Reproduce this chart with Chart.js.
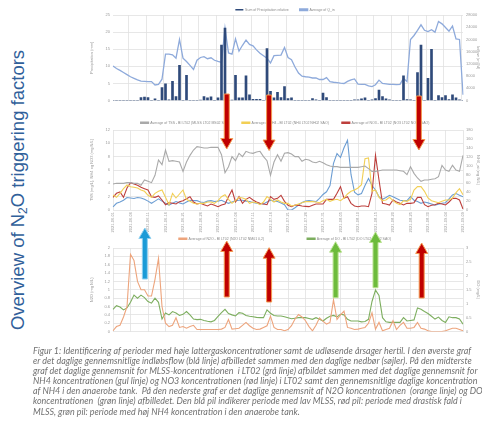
<!DOCTYPE html>
<html>
<head>
<meta charset="utf-8">
<script src="https://cdn.jsdelivr.net/npm/chart.js@4.4.0/dist/chart.umd.min.js"></script>
<style>
  html, body { margin: 0; padding: 0; background: #fff; }
  body { width: 482px; height: 423px; position: relative; overflow: hidden; font-family: "Liberation Sans", Arial, sans-serif; }
  canvas.chart { position: absolute; }
  #title {
    position: absolute; left: 18px; top: 189.5px;
    transform: translate(-50%, -50%) rotate(-90deg);
    white-space: nowrap; font-size: 18.5px; line-height: 22px; color: #30609a;
  }
  #title sub { font-size: 0.65em; line-height: 0; vertical-align: -0.25em; }
  #caption {
    position: absolute; left: 33px; top: 346px;
    font-family: Lato, "Open Sans", sans-serif; font-style: italic;
    font-size: 8px; line-height: 10.1px; color: #707070;
  }
  #caption div { white-space: pre; }
  #arrows { position: absolute; left: 0; top: 0; pointer-events: none; }
</style>
</head>
<body>
<div id="title">Overview of N<sub>2</sub>O triggering factors</div>

<canvas id="c1" class="chart" width="394" height="109" style="left:88px;top:-3px"></canvas>
<canvas id="c2" class="chart" width="394" height="126" style="left:88px;top:108px"></canvas>
<canvas id="c3" class="chart" width="394" height="143" style="left:88px;top:194px"></canvas>
<canvas id="arrows" width="482" height="423"></canvas>

<div id="caption">
<div><span>Figur 1: Identificering af perioder med høje lattergaskoncentrationer samt de udløsende årsager hertil. I den øverste graf</span></div>
<div>er det daglige gennemsnitlige indløbsflow (blå linje) afbilledet sammen med den daglige nedbør (søjler). På den midterste</div>
<div>graf det daglige gennemsnit for MLSS-koncentrationen  i LT02 (grå linje) afbildet sammen med det daglige gennemsnit for</div>
<div>NH4 koncentrationen (gul linje) og NO3 koncentrationen (rød linje) i LT02 samt den gennemsnitlige daglige koncentration</div>
<div>af NH4 i den anaerobe tank.  På den nederste graf er det daglige gennemsnit af N2O koncentrationen  (orange linje) og DO</div>
<div>koncentrationen  (grøn linje) afbilledet. Den blå pil indikerer periode med lav MLSS, rød pil: periode med drastisk fald i</div>
<div>MLSS, grøn pil: periode med høj NH4 koncentration i den anaerobe tank.</div>
</div>

<script>
// dagligt gennemsnit, 101 dage
const days = [];
const start = new Date(Date.UTC(2021, 5, 1));
for (let i = 0; i <= 100; i++) {
    const d = new Date(start.getTime() + i * 86400000);
    days.push(d.toISOString().slice(0, 10));
}

const precipitation = [
    0, 0, 0, 0, 0, 0, 0, 0, 0.9, 1.0,
    0.9, 0, 0.5, 0, 3.8, 4.9, 0.2, 5.6, 1.2, 10.3,
    0, 7.4, 0, 0, 0, 0.1, 1.2, 0.8, 1.1, 0,
    0.8, 16.2, 21.2, 0, 0.1, 7.4, 0.8, 0.8, 7.2, 1.7,
    0.4, 0.4, 0.4, 0, 15.2, 2.7, 0.8, 2.4, 0.9, 4.1,
    0.6, 0.8, 0, 0, 0, 0, 0, 0.6, 0.2, 0,
    2.2, 0.9, 0, 0, 0, 0, 0, 0, 0, 0.2,
    0.2, 0.5, 0.8, 0, 0.2, 0.6, 3.1, 1.2, 0.5, 0.2,
    0, 0, 0, 7.2, 0.3, 0.2, 0, 8.2, 16.2, 0,
    6.5, 15.0, 0, 1.5, 0.9, 1.5, 0.3, 1.7, 0.8, 0.2,
    0
];

const inflow = [
    11300, 10500, 9900, 9200, 8500, 7800, 7300, 6800, 6400, 6300,
    6200, 6200, 5100, 5300, 7000, 15200, 15200, 15000, 13900, 20000,
    13900, 12800, 11500, 10200, 13200, 14100, 14400, 13700, 14000, 13200,
    12800, 12500, 23700, 15600, 15200, 20200, 16200, 18100, 19800, 18400,
    17900, 16600, 15500, 14700, 13900, 12300, 14700, 14800, 14900, 17400,
    14100, 13400, 11000, 9000, 8000, 7800, 7700, 7400, 7400, 6900,
    6900, 7500, 6200, 6000, 5900, 5700, 5600, 6300, 6800, 7100,
    5400, 5300, 5300, 4800, 4600, 5200, 6700, 5600, 5500, 5300,
    5300, 5200, 5300, 7300, 6200, 20000, 21300, 23000, 24800, 23000,
    22600, 23200, 22400, 25900, 25100, 23900, 22700, 24400, 20200, 20000,
    1900
];

const tss = [
    3.9, 4.0, 4.0, 4.0, 4.1, 4.1, 4.0, 4.0, 3.7, 4.5,
    4.3, 4.1, 5.2, 7.5, 6.8, 9.0, 7.3, 7.4, 7.3, 7.2,
    5.8, 7.2, 8.2, 9.0, 9.5, 9.4, 9.3, 9.3, 9.4, 9.4,
    9.4, 8.3, 5.6, 6.5, 8.0, 7.4, 8.5, 8.0, 8.8, 8.6,
    8.5, 8.7, 8.8, 8.0, 7.4, 5.2, 7.2, 8.3, 7.3, 8.5,
    8.6, 8.4, 8.0, 8.0, 7.3, 7.6, 7.5, 7.2, 7.1, 7.3,
    7.1, 6.8, 6.6, 6.5, 6.5, 6.4, 6.4, 6.4, 6.4, 6.4,
    6.4, 6.5, 6.6, 6.2, 5.8, 5.8, 5.9, 6.0, 6.0, 6.0,
    6.0, 6.0, 5.9, 5.8, 5.3, 6.5, 5.5, 4.8, 4.3, 4.5,
    4.5, 4.6, 4.7, 5.0, 6.7, 6.0, 5.8, 6.7, 6.0, 5.8,
    8.2
];

const nh4 = [
    2.25, 1.9, 2.5, 3.2, 3.75, 3.5, 3.4, 3.3, 3.0, 2.8,
    2.2, 1.9, 2.5, 2.8, 3.0, 1.9, 0.8, 2.5, 1.8, 2.4,
    3.0, 1.6, 1.3, 1.0, 0.9, 1.0, 1.0, 1.2, 1.2, 1.0,
    1.4, 2.0, 2.3, 1.6, 1.0, 1.4, 1.9, 1.8, 1.6, 1.0,
    1.2, 1.1, 0.8, 1.2, 2.0, 1.6, 1.2, 1.5, 1.2, 1.0,
    1.0, 0.6, 0.7, 0.9, 1.1, 1.25, 1.25, 1.25, 1.2, 1.1,
    1.4, 1.6, 1.3, 1.5, 1.6, 1.4, 1.8, 2.4, 2.8, 3.0,
    3.3, 3.8, 7.7, 7.8, 2.8, 3.0, 1.9, 1.4, 1.5, 1.9,
    1.4, 1.0, 0.8, 1.4, 1.3, 1.6, 3.0, 3.5, 3.5, 2.8,
    1.8, 1.4, 1.25, 1.1, 1.3, 1.5, 1.5, 1.8, 2.6, 3.2,
    2.3
];

const no3 = [
    1.9, 2.5, 2.7, 1.9, 3.3, 4.1, 3.9, 3.7, 3.4, 3.2,
    3.0, 2.0, 1.9, 2.1, 1.5, 0.8, 1.1, 1.0, 0.9, 1.25,
    1.4, 1.7, 2.0, 1.2, 0.9, 1.0, 0.8, 0.6, 0.9, 0.7,
    0.5, 0.75, 0.9, 2.0, 3.0, 1.2, 2.0, 1.0, 1.6, 1.9,
    1.5, 1.2, 1.0, 0.9, 0.8, 2.0, 1.6, 1.75, 2.2, 1.3,
    0.7, 0.5, 0.75, 0.7, 0.6, 0.55, 0.5, 0.7, 0.9, 0.9,
    0.9, 1.6, 1.6, 1.6, 2.5, 3.5, 1.75, 2.0, 1.0, 0.6,
    0.5, 0.6, 0.6, 0.5, 2.5, 8.2, 4.5, 1.0, 0.9, 0.75,
    1.5, 1.2, 1.0, 0.75, 1.0, 1.0, 1.1, 1.9, 1.9, 0.8,
    0.5, 0.7, 0.8, 1.0, 0.9, 0.75, 1.2, 1.75, 1.75, 1.5,
    0.15
];

const nh4Anaerobic = [
    7, 15, 18, 22, 28, 27, 26, 28, 27, 24,
    20, 15, 20, 25, 20, 15, 11, 15, 19, 16,
    13.5, 18, 22, 21, 21, 18, 17, 20, 21, 19,
    20, 22, 18, 15, 18, 21, 22, 22, 20, 19,
    17, 15, 14, 13.5, 18, 22, 20, 19, 16, 12,
    0, 0, 5, 11, 17, 20, 21, 20, 19, 26,
    35, 41, 55, 105, 127, 118, 140, 157, 80, 40,
    34, 37, 55, 71, 55, 45, 30, 24, 28, 33,
    30, 26, 22, 21, 21, 30, 22, 19, 15, 18,
    16, 13.5, 11, 13, 15, 16.5, 25, 34, 37, 33,
    30
];

const n2o = [
    0.02, 0.12, 0.15, 0.35, 0.6, 1.85, 1.7, 1.2, 1.0, 1.0,
    0.85, 0.85, 1.25, 1.75, 0.6, 0.2, 0.12, 0.15, 0.33, 0.1,
    0.12, 0.08, 0.12, 0.15, 0.05, 0.05, 0.05, 0.05, 0.05, 0.05,
    0.05, 0.06, 0.1, 0.29, 0.06, 0.07, 0.08, 0.15, 0.22, 0.14,
    0.08, 0.05, 0.06, 0.1, 0.14, 0.37, 0.1, 0.05, 0.05, 0.02,
    0.05, 0.14, 0.3, 0.41, 0.35, 0.26, 0.12, 0.02, 0.15, 0.33,
    0.25, 0.18, 0.22, 0.76, 0.29, 0.4, 0.49, 0.1, 0.08, 0.05,
    0.06, 0.08, 0.1, 0.2, 0.45, 0.06, 0.22, 0.02, 0.05, 0.08,
    0.26, 0.05, 0.15, 0.22, 0.08, 0.08, 0.1, 0.22, 0.08, 0.06,
    0.02, 0, 0, 0, 0, 0.02, 0.05, 0.08, 0.08, 0.05,
    0.02
];

const dissolvedOxygen = [
    0.8, 0.93, 0.88, 0.78, 0.85, 1.05, 1.31, 1.2, 1.31, 1.22,
    1.08, 1.02, 1.2, 1.05, 0.45, 0.67, 0.6, 0.72, 0.67, 0.58,
    0.62, 0.72, 0.6, 0.45, 0.43, 0.44, 0.4, 0.37, 0.35, 0.4,
    0.55, 0.68, 0.8, 0.65, 0.6, 0.56, 0.68, 0.66, 0.58, 0.55,
    0.53, 0.51, 0.5, 0.5, 0.78, 0.66, 0.58, 0.56, 0.56, 0.53,
    0.5, 0.46, 0.48, 0.5, 0.5, 0.5, 0.47, 0.44, 0.5, 0.44,
    0.38, 0.48, 0.55, 0.58, 0.53, 0.62, 0.6, 0.44, 0.38, 0.38,
    0.38, 0.35, 0.36, 0.44, 1.08, 1.49, 1.3, 0.5, 0.35, 0.33,
    0.33, 0.33, 0.33, 0.5, 0.38, 0.4, 0.42, 0.85, 0.8, 0.72,
    0.65, 0.55, 0.45, 0.52, 0.4, 0.33, 0.53, 0.5, 0.5, 0.45,
    0.27
];

// pile (dag-indeks)
const blueArrowsUp = [9.1];
const redArrowsDown = [32.5, 44.6, 87.4];
const redArrowsUp = [32.5, 44.6, 88.2];
const greenArrowsUp = [63.6, 75.0];

const tiny = { family: '"Liberation Sans", Arial, sans-serif', size: 4 };
const legendFont = { family: '"Liberation Sans", Arial, sans-serif', size: 3.5 };
const gridColor = '#e1e1e1';
const textColor = '#9a9a9a';
const fmt = v => String(Math.round(v * 100) / 100);

function legendHeight(h) {
    return {
        id: 'legendHeight',
        beforeInit(chart) {
            const fit = chart.legend.fit;
            chart.legend.fit = function () {
                fit.call(this);
                this.height = h;
            };
        }
    };
}

function xAxis(showLabels) {
    return {
        offset: false,
        border: { display: false },
        grid: {
            drawTicks: false,
            lineWidth: 0.8,
            color: c => (c.index % 5 === 0 ? gridColor : 'rgba(0,0,0,0)')
        },
        ticks: {
            display: showLabels,
            autoSkip: false,
            minRotation: 90,
            maxRotation: 90,
            padding: 2,
            font: tiny,
            color: textColor,
            callback: (v, i) => (i % 5 === 0 ? days[i] : '')
        },
        afterFit: s => { s.height = showLabels ? 24 : 0; }
    };
}

function yAxis(pos, min, max, step, title, grid, width) {
    return {
        position: pos,
        min: min,
        max: max,
        border: { display: false },
        grid: { display: grid, drawTicks: false, color: gridColor, lineWidth: 0.8 },
        ticks: { stepSize: step, padding: 3, font: tiny, color: textColor, callback: fmt },
        title: { display: true, text: title, font: tiny, color: textColor, padding: 1 },
        afterFit: s => { s.width = width; }
    };
}

function legend(padding) {
    return {
        position: 'top',
        align: 'center',
        labels: { boxWidth: 8, boxHeight: 1.5, padding: padding, font: legendFont, color: '#8a8a8a' }
    };
}

function lineSet(label, data, color, axis) {
    return {
        type: 'line', label: label, data: data,
        borderColor: color, backgroundColor: color,
        borderWidth: 1.1, pointRadius: 0, tension: 0,
        yAxisID: axis
    };
}

const base = {
    responsive: false,
    devicePixelRatio: 1,
    animation: false,
    events: []
};

const chart1 = new Chart(document.getElementById('c1'), {
    data: {
        labels: days,
        datasets: [
            {
                type: 'bar', label: 'Sum of Precipitation relative', data: precipitation,
                backgroundColor: '#2f4a7a', borderColor: '#2f4a7a', borderWidth: 0,
                barThickness: 2, yAxisID: 'y', order: 1
            },
            Object.assign(lineSet('Average of Q_in', inflow, '#8eaadb', 'y1'), { borderWidth: 1.3, order: 2 })
        ]
    },
    options: Object.assign({}, base, {
        layout: { padding: { bottom: 3 } },
        plugins: { legend: legend(11), tooltip: { enabled: false } },
        scales: {
            x: xAxis(false),
            y: yAxis('left', 0, 25, 5, 'Precipitation (mm)', true, 25),
            y1: yAxis('right', 0, 28000, 2000, 'Inflow (m3/d)', false, 19)
        }
    }),
    plugins: [legendHeight(18)]
});

const chart2 = new Chart(document.getElementById('c2'), {
    data: {
        labels: days,
        datasets: [
            lineSet('Average of TSS - BI LT02 (MLSS LT02 MS02 SLT)', tss, '#a9a9a9', 'y'),
            lineSet('Average of NH4 - BI LT02 (NH4 LT02 NH02 SAO)', nh4, '#f2cf55', 'y'),
            lineSet('Average of NO3 - BI LT02 (NO3 LT02 NO02 SAO)', no3, '#bd3f3c', 'y'),
            lineSet('Average of NH4_ai - BI AT01 (NH4 AT01 NH03 SAO)', nh4Anaerobic, '#6d9ed3', 'y1')
        ]
    },
    options: Object.assign({}, base, {
        plugins: { legend: legend(13), tooltip: { enabled: false } },
        scales: {
            x: xAxis(true),
            y: yAxis('left', 0, 12, 2, 'TSS (mg/L), NH4 og NO3 (mg N/L)', true, 25),
            y1: yAxis('right', 0, 180, 20, 'NH4_ai (mg N/L)', false, 19)
        }
    }),
    plugins: [legendHeight(22)]
});

const chart3 = new Chart(document.getElementById('c3'), {
    data: {
        labels: days,
        datasets: [
            lineSet('Average of N2O - BI LT02 (N2O LT02 NM01 0,2)', n2o, '#eda47c', 'y'),
            lineSet('Average of DO - BI LT02 (DO LT02 MO02 SAO)', dissolvedOxygen, '#7dae5f', 'y1')
        ]
    },
    options: Object.assign({}, base, {
        layout: { padding: { bottom: 3 } },
        plugins: { legend: legend(43), tooltip: { enabled: false } },
        scales: {
            x: xAxis(false),
            y: yAxis('left', 0, 2, 0.2, 'N2O (mg N/L)', true, 25),
            y1: yAxis('right', 0, 3, 0.5, 'DO (mg/L)', false, 19)
        }
    }),
    plugins: [legendHeight(54)]
});

// pile oven på graferne
function drawArrow(g, x, yTail, yTip, fill, stroke) {
    const dir = yTip > yTail ? 1 : -1;
    const shaft = 2.5, head = 6, headLen = 10.5;
    const yBase = yTip - dir * headLen;
    g.beginPath();
    g.moveTo(x - shaft, yTail);
    g.lineTo(x + shaft, yTail);
    g.lineTo(x + shaft, yBase);
    g.lineTo(x + head, yBase);
    g.lineTo(x, yTip);
    g.lineTo(x - head, yBase);
    g.lineTo(x - shaft, yBase);
    g.closePath();
    g.fillStyle = fill;
    g.fill();
    g.lineWidth = 1;
    g.strokeStyle = stroke;
    g.stroke();
}

function drawArrows() {
    const c = document.getElementById('arrows');
    const g = c.getContext('2d');
    const sx = chart2.scales.x;
    const left = chart2.canvas.offsetLeft;
    const px = d => left + sx.getPixelForValue(d);
    const downTail = [94, 95, 96], downTip = [149, 150.5, 150];
    redArrowsDown.forEach((d, i) => drawArrow(g, px(d), downTail[i], downTip[i], '#c00000', '#f39a52'));
    blueArrowsUp.forEach(d => drawArrow(g, px(d), 279, 228, '#1b9bd7', '#8fd0f0'));
    const upTail = [297, 302, 298], upTip = [241, 247.7, 243];
    redArrowsUp.forEach((d, i) => drawArrow(g, px(d), upTail[i], upTip[i], '#c00000', '#f39a52'));
    const gTail = [297.7, 287.7], gTip = [241.7, 232];
    greenArrowsUp.forEach((d, i) => drawArrow(g, px(d), gTail[i], gTip[i], '#6dbb3c', '#b8e28e'));
}
drawArrows();

// tilpas billedtekstens skriftstørrelse
const cap = document.getElementById('caption');
const w = cap.querySelector('span').getBoundingClientRect().width;
cap.style.fontSize = (8 * 439 / w).toFixed(2) + 'px';
</script>
</body>
</html>
